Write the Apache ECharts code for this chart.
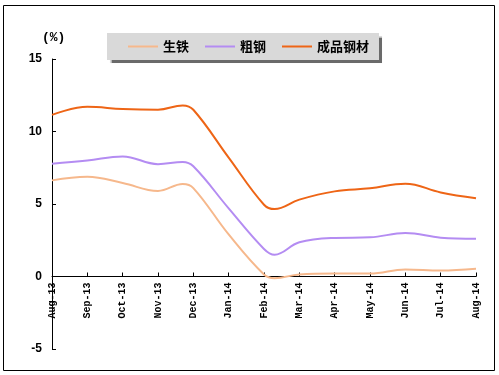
<!DOCTYPE html>
<html>
<head>
<meta charset="utf-8">
<script src="https://cdn.jsdelivr.net/npm/echarts@6/dist/echarts.min.js"></script>
<style>html,body{margin:0;padding:0;background:#fff}#c{width:499px;height:375px}</style>
</head>
<body>
<div id="c"></div>
<script>
var monthLabels = ['Aug-13','Sep-13','Oct-13','Nov-13','Dec-13','Jan-14','Feb-14','Mar-14','Apr-14','May-14','Jun-14','Jul-14','Aug-14'];
var seriesNames = ['生铁','粗钢','成品钢材'];
// positions along the month axis (0 = Aug-13) where values were read
var xPos = [0, 1, 2, 3, 3.7, 4, 5, 6, 6.3, 7, 8, 9, 10, 11, 12];
var pigIron = [6.63, 6.88, 6.45, 5.9, 6.38, 6.1, 2.9, 0.14, -0.12, 0.14, 0.2, 0.2, 0.48, 0.41, 0.53];
var crudeSteel = [7.78, 8.0, 8.28, 7.75, 7.9, 7.6, 4.7, 1.9, 1.5, 2.36, 2.66, 2.7, 3.0, 2.68, 2.6];
var finishedSteel = [11.15, 11.7, 11.55, 11.5, 11.8, 11.5, 8.2, 4.95, 4.65, 5.3, 5.87, 6.08, 6.4, 5.8, 5.4];
var yTicks = [-5, 0, 5, 10, 15];

function pairs(vals){ return xPos.map(function(x,i){ return [x, vals[i]]; }); }
var colors = ['#F6B88C', '#B48CF2', '#EE6516'];
var W = 499, H = 375, gTop = 59, gBottom = 26;
var yMin = yTicks[0], yMax = yTicks[yTicks.length-1];
var gridH = H - gTop - gBottom;
var zeroOffset = -(0 - yMin) / (yMax - yMin) * gridH;
var chart = echarts.init(document.getElementById('c'));
var allVals = [pigIron, crudeSteel, finishedSteel];
chart.setOption({
  animation: false,
  color: colors,
  grid: {left: 52, right: 23, top: gTop, bottom: gBottom, containLabel: false, outerBoundsMode: 'none'},
  legend: {
    data: seriesNames,
    left: 107, top: 33,
    icon: 'rect', itemWidth: 30, itemHeight: 2, itemGap: 16,
    padding: [7, 10, 7, 21],
    backgroundColor: '#D9D9D9',
    shadowColor: 'rgba(90,90,90,0.9)', shadowBlur: 1, shadowOffsetX: 3, shadowOffsetY: 3,
    textStyle: {fontFamily: 'Noto Sans CJK SC', fontWeight: 'bold', fontSize: 13, color: '#000'}
  },
  xAxis: {
    type: 'value', min: 0, max: monthLabels.length - 1, interval: 1,
    position: 'bottom', offset: zeroOffset,
    splitLine: {show: false},
    axisLine: {onZero: false, lineStyle: {color: '#000', width: 1}},
    axisTick: {inside: true, length: 4, lineStyle: {color: '#000'}},
    axisLabel: {
      rotate: 90, margin: 6, color: '#000', fontFamily: 'Liberation Mono', fontWeight: 'bold', fontSize: 10,
      formatter: function(v){ return monthLabels[Math.round(v)] || ''; }
    }
  },
  yAxis: {
    type: 'value', min: yMin, max: yMax, interval: 5,
    splitLine: {show: false},
    axisLine: {show: true, onZero: false, lineStyle: {color: '#000', width: 1}},
    axisTick: {show: true, inside: true, length: 4, lineStyle: {color: '#000'}},
    axisLabel: {margin: 10, color: '#000', fontFamily: 'Liberation Sans', fontWeight: 'bold', fontSize: 12}
  },
  graphic: [
    {type: 'rect', shape: {x: 3.5, y: 5.5, width: 491, height: 365}, style: {fill: 'none', stroke: '#000', lineWidth: 1}, silent: true},
    {type: 'text', left: 42, top: 31, style: {text: '(%)', font: 'bold 13px "Liberation Mono"', fill: '#000'}}
  ],
  series: seriesNames.map(function(n, i){
    return {
      name: n, type: 'line', smooth: 0.4, showSymbol: false,
      lineStyle: {width: 2, color: colors[i]},
      data: pairs(allVals[i])
    };
  })
});
</script>
</body>
</html>
